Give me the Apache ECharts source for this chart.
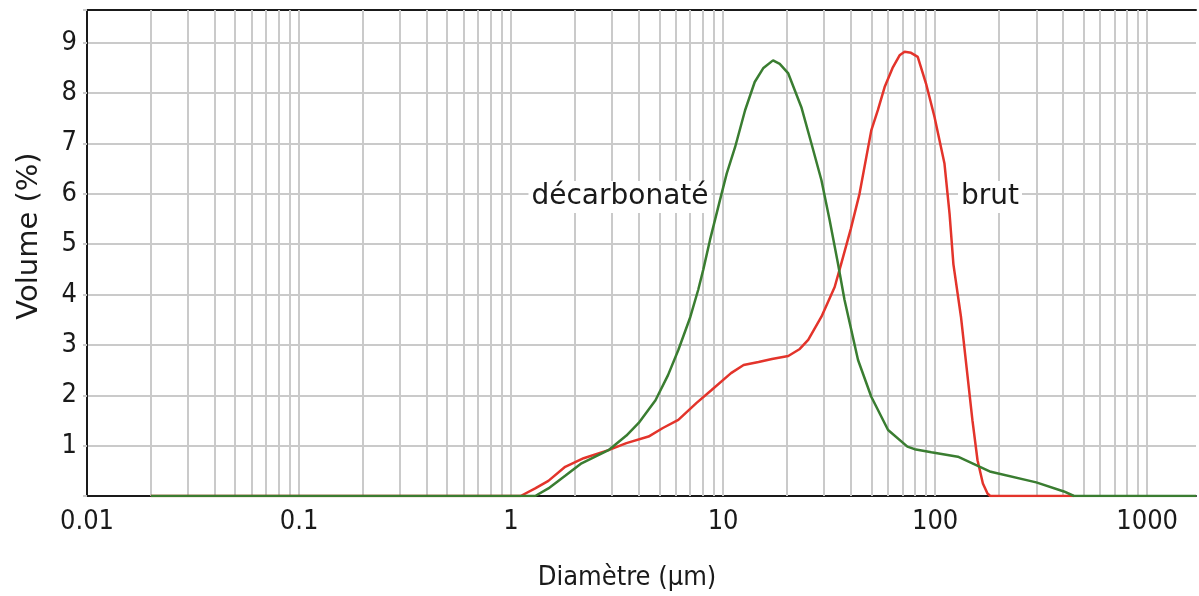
<!DOCTYPE html>
<html>
<head>
<meta charset="utf-8">
<script src="https://cdn.jsdelivr.net/npm/echarts@6/dist/echarts.min.js"></script>
<style>
  html, body { margin: 0; padding: 0; background: #fff; }
  #chart { width: 1199px; height: 596px; }
</style>
</head>
<body>
<div id="chart"></div>
<script>
// Diameter (µm) / volume (%)
const brutX = [0.02, 1.0, 1.11, 1.3, 1.5, 1.8, 2.2, 2.88, 3.5, 4.45, 5.2, 6.15, 7.5, 8.8, 10.9, 12.5, 14.7, 17, 20.3, 23, 25.2, 29.1, 33.6, 36, 40, 44, 50, 53.7, 57.8, 63, 68, 71.8, 77, 82.8, 90.6, 99.3, 110.7, 117, 122, 132.4, 142.3, 150, 158.5, 168, 176.6, 182, 452];
const brutY = [0, 0, 0, 0.15, 0.3, 0.58, 0.75, 0.91, 1.05, 1.18, 1.35, 1.51, 1.85, 2.1, 2.44, 2.6, 2.66, 2.72, 2.78, 2.92, 3.1, 3.56, 4.15, 4.6, 5.3, 6.0, 7.26, 7.66, 8.12, 8.5, 8.75, 8.82, 8.8, 8.72, 8.19, 7.53, 6.6, 5.6, 4.6, 3.56, 2.37, 1.5, 0.71, 0.25, 0.05, 0, 0];

const decarbX = [0.02, 1.3, 1.5, 1.8, 2.15, 2.88, 3.5, 4.0, 4.8, 5.5, 6.15, 7.0, 7.64, 8.07, 8.67, 9.66, 10.4, 11.4, 12.7, 14.1, 15.5, 17.2, 18.5, 20.3, 23.4, 26.1, 29.1, 31.8, 34.8, 37.4, 43.3, 50, 60, 74, 80, 96, 128, 183, 300, 405, 452, 1700];
const decarbY = [0, 0, 0.15, 0.4, 0.65, 0.91, 1.2, 1.45, 1.9, 2.4, 2.9, 3.55, 4.1, 4.5, 5.08, 5.87, 6.4, 6.93, 7.66, 8.22, 8.5, 8.65, 8.58, 8.39, 7.72, 7.0, 6.27, 5.48, 4.62, 3.89, 2.7, 1.97, 1.31, 0.98, 0.93, 0.87, 0.78, 0.48, 0.27, 0.09, 0, 0];

const xTickLabels = ['0.01', '0.1', '1', '10', '100', '1000'];
const yTickLabels = ['1', '2', '3', '4', '5', '6', '7', '8', '9'];
const decades = [0.01, 0.1, 1, 10, 100, 1000];
const steps = [1, 2, 3, 4, 5, 6, 7, 8, 9];

const X_MIN = 0.01, X_MAX = 1700;
const Y_MAX = 9.65;

const font = "'Liberation Sans Narrow', 'DejaVu Sans Condensed', 'Open Sans', sans-serif";
const labelFont = "'DejaVu Sans', 'Open Sans', sans-serif";
const gridGray = '#cacaca';

// vertical log grid lines (1..9 per decade)
const vLines = [];
decades.forEach((d) => {
  steps.forEach((s) => {
    const v = d * s;
    if (v > X_MIN && v < X_MAX) vLines.push({ xAxis: v });
  });
});

const chart = echarts.init(document.getElementById('chart'), null, { renderer: 'canvas' });

chart.setOption({
  animation: false,
  backgroundColor: '#fff',
  grid: { left: 87, right: 0, top: 10, bottom: 100 },
  xAxis: [
    {
      type: 'log',
      logBase: 10,
      min: X_MIN,
      max: X_MAX,
      axisLine: { lineStyle: { color: '#1a1a1a', width: 2 } },
      axisTick: { show: false },
      splitLine: { show: false },
      axisLabel: {
        color: '#1a1a1a',
        fontSize: 27,
        fontFamily: font,
        margin: 12,
        formatter: (v) => {
          const k = Math.round(Math.log10(v)) + 2;
          if (Math.abs(Math.log10(v) - (k - 2)) > 1e-6) return '';
          return xTickLabels[k] || '';
        },
      },
    },
    {
      type: 'log',
      logBase: 10,
      min: X_MIN,
      max: X_MAX,
      position: 'top',
      axisLine: { lineStyle: { color: '#1a1a1a', width: 2 } },
      axisTick: { show: false },
      axisLabel: { show: false },
      splitLine: { show: false },
    },
  ],
  yAxis: {
    type: 'value',
    min: 0,
    max: Y_MAX,
    interval: 1,
    axisLine: { show: true, lineStyle: { color: '#1a1a1a', width: 2 } },
    axisTick: { show: true, length: 4, lineStyle: { color: gridGray, width: 2 } },
    splitLine: { lineStyle: { color: gridGray, width: 2 } },
    axisLabel: {
      color: '#1a1a1a',
      fontSize: 27,
      fontFamily: font,
      margin: 10,
      formatter: (v) => {
        const i = Math.round(v);
        if (Math.abs(v - i) > 1e-6 || i < 1) return '';
        return yTickLabels[i - 1] || '';
      },
    },
  },
  graphic: [
    {
      type: 'text', x: 29, y: 236, rotation: Math.PI / 2, z: 10,
      style: { text: 'Volume (%)', fill: '#1a1a1a', font: '29px ' + labelFont, textAlign: 'center', textVerticalAlign: 'middle' },
    },
    {
      type: 'text', x: 627, y: 578, z: 10,
      style: { text: 'Diamètre (µm)', fill: '#1a1a1a', font: '27px ' + font, textAlign: 'center', textVerticalAlign: 'middle' },
    },
    {
      type: 'text', x: 620, y: 197, z: 10,
      style: {
        text: 'décarbonaté', fill: '#1a1a1a', font: '28px ' + labelFont,
        textAlign: 'center', textVerticalAlign: 'middle',
        backgroundColor: '#fff', padding: [2, 3],
      },
    },
    {
      type: 'text', x: 990, y: 197, z: 10,
      style: {
        text: 'brut', fill: '#1a1a1a', font: '28px ' + labelFont,
        textAlign: 'center', textVerticalAlign: 'middle',
        backgroundColor: '#fff', padding: [2, 3],
      },
    },
  ],
  series: [
    {
      name: 'grid',
      type: 'line',
      data: [],
      silent: true,
      z: 1,
      markLine: {
        silent: true,
        symbol: 'none',
        z: 1,
        label: { show: false },
        lineStyle: { color: gridGray, width: 2, type: 'solid' },
        data: vLines,
      },
    },
    {
      name: 'brut',
      type: 'line',
      data: brutX.map((x, i) => [x, brutY[i]]),
      showSymbol: false,
      z: 3,
      lineStyle: { color: '#e3342b', width: 2.5 },
    },
    {
      name: 'décarbonaté',
      type: 'line',
      data: decarbX.map((x, i) => [x, decarbY[i]]),
      showSymbol: false,
      z: 4,
      lineStyle: { color: '#3a7d31', width: 2.5 },
    },
  ],
});
</script>
</body>
</html>
